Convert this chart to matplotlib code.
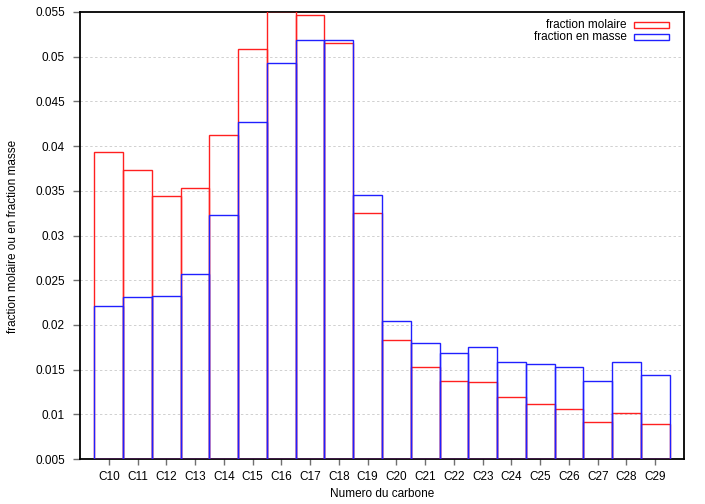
import matplotlib
matplotlib.use("Agg")
import matplotlib.pyplot as plt
from matplotlib.patches import Rectangle
import numpy as np

plt.rcParams['font.family'] = ['Liberation Sans', 'DejaVu Sans']

categories = ["C10", "C11", "C12", "C13", "C14", "C15", "C16", "C17", "C18", "C19",
              "C20", "C21", "C22", "C23", "C24", "C25", "C26", "C27", "C28", "C29"]
molaire = [0.0393, 0.0373, 0.0344, 0.0353, 0.0412, 0.0509, 0.0551, 0.0547, 0.0515, 0.0325,
           0.0183, 0.0153, 0.0137, 0.0136, 0.0119, 0.0112, 0.0106, 0.0091, 0.0102, 0.0089]
masse = [0.0221, 0.0231, 0.0232, 0.0257, 0.0323, 0.0427, 0.0493, 0.0519, 0.0519, 0.0345,
         0.0204, 0.0180, 0.0169, 0.0175, 0.0159, 0.0156, 0.0153, 0.0137, 0.0159, 0.0144]
yticks = [0.005, 0.01, 0.015, 0.02, 0.025, 0.03, 0.035, 0.04, 0.045, 0.05, 0.055]
ytick_labels = ["0.005", "0.01", "0.015", "0.02", "0.025", "0.03", "0.035", "0.04", "0.045", "0.05", "0.055"]

FS = 8.5
fig = plt.figure(figsize=(7.05, 5.04), dpi=100)
ax = fig.add_axes([80/705, 1 - 459/504, (684-80)/705, (459-12)/504])

x = np.arange(len(categories))
ymin = 0.005
ax.bar(x, np.array(molaire) - ymin, bottom=ymin, width=1.0, facecolor='none',
       edgecolor='#ff2020', linewidth=1.0, zorder=3)
ax.bar(x, np.array(masse) - ymin, bottom=ymin, width=1.0, facecolor='none',
       edgecolor='#2020ff', linewidth=1.0, zorder=4)

ax.set_xlim(-1, 20)
ax.set_ylim(0.005, 0.055)
ax.set_xticks(x)
ax.set_xticklabels(categories)
ax.set_yticks(yticks)
ax.set_yticklabels(ytick_labels)
ax.tick_params(axis='both', direction='out', width=1, color='#707070', labelsize=FS)
ax.tick_params(axis='y', length=5.3, pad=5.5)
ax.tick_params(axis='x', length=4.5, pad=4.5)
for s in ax.spines.values():
    s.set_linewidth(1.3)
    s.set_color('black')

for yv in yticks[1:-1]:
    ax.axhline(yv, color='#d0d0d0', linestyle=(0, (2.5, 2.5)), linewidth=0.7, zorder=1)

fig.text(382/705, 1 - 494/504, "Numero du carbone", ha='center', va='center', fontsize=FS)
fig.text(13/705, 1 - 236/504, "fraction molaire ou en fraction masse", ha='center', va='center',
         rotation=90, fontsize=FS)

# legend (gnuplot style: right-justified text, sample box on the right)
trans = ax.transAxes
W = 604.0
H = 447.0
entries = [("fraction molaire", '#ff2020', 24.5), ("fraction en masse", '#2020ff', 36.5)]
for label, col, ypix in entries:
    yc = 1 - (ypix - 12) / H
    ax.text((627 - 80) / W, yc, label, transform=trans, ha='right', va='center', fontsize=FS)
    ax.add_patch(Rectangle(((634 - 80) / W, yc - 3 / H), 35 / W, 6 / H, transform=trans,
                           facecolor='none', edgecolor=col, linewidth=1.0, zorder=5))

fig.savefig("out.png", dpi=100)
